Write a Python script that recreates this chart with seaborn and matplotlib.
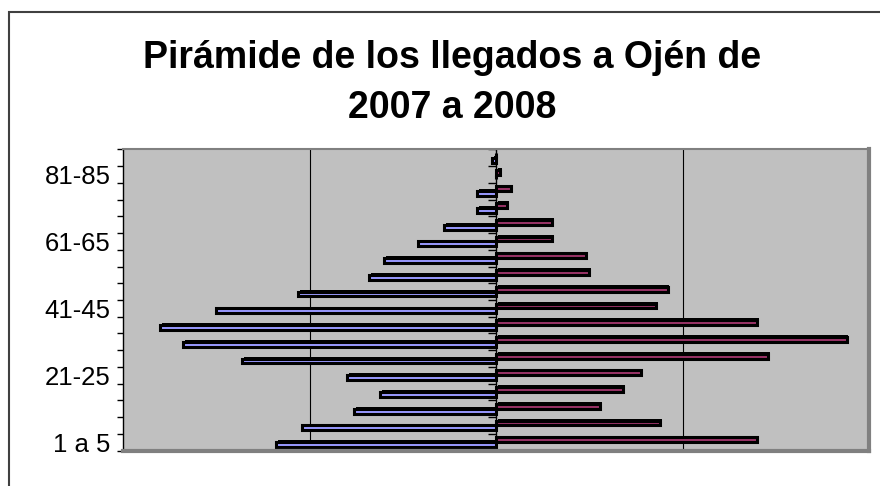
import matplotlib
matplotlib.use("Agg")
from matplotlib import pyplot as plt
from matplotlib import patheffects as pe
from matplotlib.patches import Rectangle
import numpy as np
import pandas as pd
import seaborn as sns

# grupos de edad, de abajo a arriba
edades = ["1 a 5", "6-10", "11-15", "16-20", "21-25", "26-30", "31-35", "36-40",
          "41-45", "46-50", "51-55", "56-60", "61-65", "66-70", "71-75", "76-80",
          "81-85", "86-90"]
hombres = [59, 52, 38, 31, 40, 68, 84, 90, 75, 53, 34, 30, 21, 14, 5, 5, 0, 1]
mujeres = [70, 44, 28, 34, 39, 73, 94, 70, 43, 46, 25, 24, 15, 15, 3, 4, 1, 0]
etiquetas = ["1 a 5", "21-25", "41-45", "61-65", "81-85"]
titulo = ["Pirámide de los llegados a Ojén de", "2007 a 2008"]

sns.set_style("white")
plt.rcParams["font.family"] = ["Liberation Sans", "DejaVu Sans"]
plt.rcParams["text.color"] = "black"
plt.rcParams["ytick.labelcolor"] = "black"

df = pd.DataFrame({
    "edad": edades * 2,
    "valor": [-h for h in hombres] + mujeres,
    "sexo": ["Hombres"] * len(edades) + ["Mujeres"] * len(edades),
})
orden = edades[::-1]

fig = plt.figure(figsize=(8.8, 4.86), dpi=100)
ax = fig.add_axes([0.1398, 0.073, 0.8477, 0.6194])

sns.barplot(data=df, x="valor", y="edad", hue="sexo", order=orden,
            hue_order=["Mujeres", "Hombres"], palette=["#993366", "#9999FF"],
            orient="h", width=0.58, errorbar=None, saturation=1,
            edgecolor="black", linewidth=2.2, legend=False, ax=ax)

# efecto 3D de Excel
for p in ax.patches:
    p.set_path_effects([pe.SimplePatchShadow(offset=(1.3, 1.3), shadow_rgbFace="black", alpha=1),
                        pe.Normal()])

ax.set_facecolor("#C0C0C0")
ax.set_xlim(-100, 100)
ax.set_ylim(len(edades) - 0.5, -0.5)
ax.set_xlabel("")
ax.set_ylabel("")

ax.set_xticks([-50, 50])
ax.tick_params(axis="x", length=0, labelbottom=False)
ax.grid(axis="x", color="black", lw=0.8)
ax.set_axisbelow(True)

pos = [orden.index(e) for e in etiquetas]
ax.set_yticks(pos, etiquetas)
ax.set_yticks(np.arange(-0.5, len(edades), 1), minor=True)
ax.tick_params(axis="y", which="major", length=0, pad=9, labelsize=18.5, labelcolor="black")
ax.tick_params(axis="y", which="minor", length=4, width=1, color="black", left=True)

ax.spines["left"].set_color("black")
ax.spines["left"].set_linewidth(1)
ax.spines["top"].set_color("#808080")
ax.spines["top"].set_linewidth(1.5)
for s in ["right", "bottom"]:
    ax.spines[s].set_color("#808080")
    ax.spines[s].set_linewidth(3)

# eje central con marcas
sec = ax.secondary_yaxis(0.5)
sec.set_alignment("left")
sec.set_yticks(np.arange(-0.5, len(edades), 1))
sec.tick_params(axis="y", length=6, width=1, color="black", labelleft=False, labelright=False)
sec.spines["left"].set_color("black")
sec.spines["left"].set_linewidth(1)

fig.text(452 / 880, 1 - 68 / 486, titulo[0], ha="center", va="baseline",
         fontsize=27, fontweight="bold", color="black")
fig.text(452 / 880, 1 - 118 / 486, titulo[1], ha="center", va="baseline",
         fontsize=27, fontweight="bold", color="black")

fig.patches.append(Rectangle((9 / 880, -1), 2, 1 + (1 - 12 / 486), transform=fig.transFigure,
                             fill=False, edgecolor="#404040", lw=1.5))

fig.savefig("out.png", dpi=100)
